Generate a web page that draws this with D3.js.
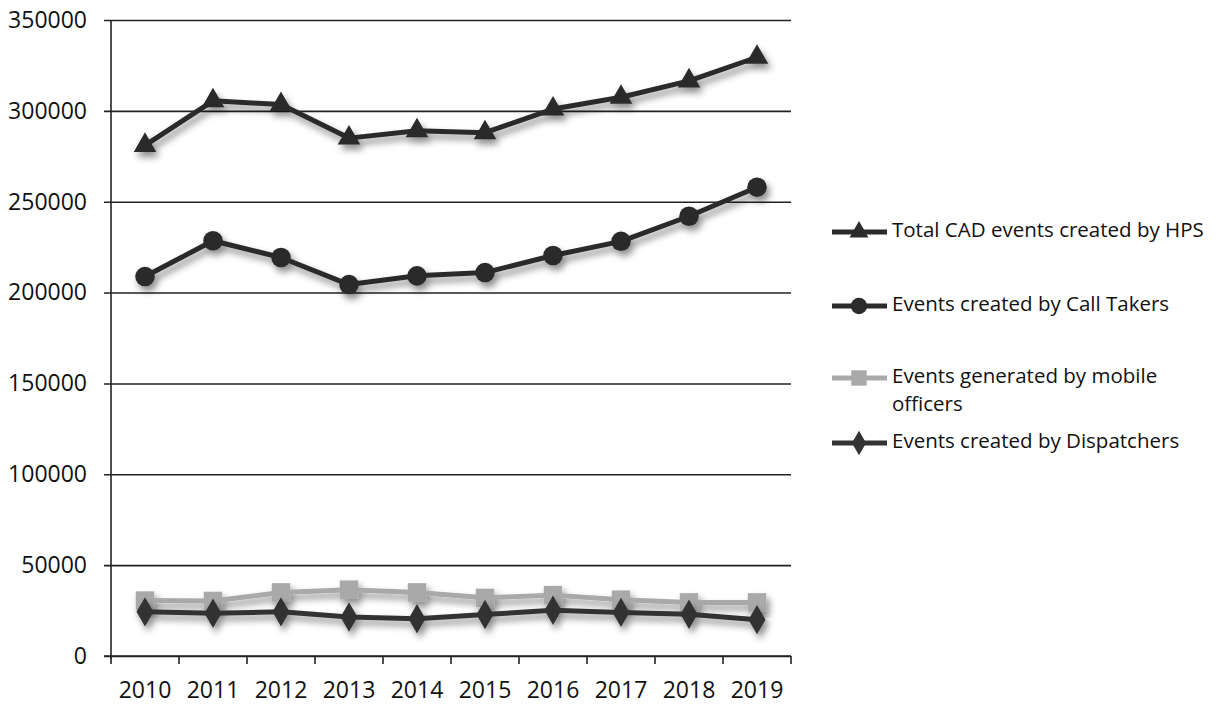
<!DOCTYPE html>
<html>
<head>
<meta charset="utf-8">
<script src="https://cdn.jsdelivr.net/npm/d3@7"></script>
<style>
  html, body { margin: 0; padding: 0; background: #fff; }
  svg { font-family: "Open Sans", sans-serif; display: block; }
</style>
</head>
<body>
<div id="root"></div>
<script>
// chart data
const years = ["2010", "2011", "2012", "2013", "2014", "2015", "2016", "2017", "2018", "2019"];
const totalEvents = [281000, 305500, 303500, 285000, 289000, 288000, 301000, 307500, 316500, 329500];
const callTakerEvents = [208800, 228500, 219300, 204400, 209200, 211000, 220400, 228200, 242000, 258000];
const mobileEvents = [30500, 30300, 35000, 36500, 35000, 32000, 33500, 31000, 29500, 29500];
const dispatcherEvents = [24300, 23500, 24300, 21500, 20500, 22800, 25200, 24000, 23000, 20000];
const yTicks = [0, 50000, 100000, 150000, 200000, 250000, 300000, 350000];
const seriesNames = [
  "Total CAD events created by HPS",
  "Events created by Call Takers",
  "Events generated by mobile officers",
  "Events created by Dispatchers"
];

const width = 1222;
const height = 704;
const margins = { top: 20, right: 431, bottom: 48, left: 111 };

const series = [
  { name: seriesNames[0], values: totalEvents, color: "#2b2b2b", symbol: d3.symbolTriangle, size: 220 },
  { name: seriesNames[1], values: callTakerEvents, color: "#2b2b2b", symbol: d3.symbolCircle, size: 300 },
  { name: seriesNames[2], values: mobileEvents, color: "#a9a9a9", symbol: d3.symbolSquare, size: 340 },
  { name: seriesNames[3], values: dispatcherEvents, color: "#333333", symbol: d3.symbolDiamond, size: 250 }
];

const svg = d3
  .select("#root")
  .append("svg")
  .attr("width", width)
  .attr("height", height);

// soft grey shadow like the scanned original
const defs = svg.append("defs");
const shadow = defs
  .append("filter")
  .attr("id", "shadow")
  .attr("x", "-20%")
  .attr("y", "-20%")
  .attr("width", "140%")
  .attr("height", "140%");
shadow
  .append("feDropShadow")
  .attr("dx", 3)
  .attr("dy", 5)
  .attr("stdDeviation", 3.5)
  .attr("flood-color", "#000")
  .attr("flood-opacity", 0.45);

const chartWidth = width - margins.left - margins.right;
const chartHeight = height - margins.top - margins.bottom;

const xScale = d3.scaleBand().domain(years).range([0, chartWidth]);
const yScale = d3.scaleLinear().domain([0, 350000]).range([chartHeight, 0]);

const chartArea = svg
  .append("g")
  .attr("transform", `translate(${margins.left}, ${margins.top})`);

// gridlines + y labels
const yAxis = d3
  .axisLeft(yScale)
  .tickValues(yTicks)
  .tickSize(-chartWidth)
  .tickPadding(24)
  .tickFormat(d3.format("d"));

const yAxisArea = chartArea.append("g").call(yAxis);
yAxisArea.select(".domain").remove();
yAxisArea
  .selectAll(".tick line")
  .attr("x1", -7)
  .attr("x2", chartWidth)
  .attr("stroke", "#222")
  .attr("stroke-width", 1.6);
yAxisArea
  .selectAll(".tick text")
  .attr("font-family", "Open Sans")
  .attr("font-size", 23)
  .attr("fill", "#111");

chartArea
  .append("line")
  .attr("x1", 0)
  .attr("x2", 0)
  .attr("y1", 0)
  .attr("y2", chartHeight + 3)
  .attr("stroke", "#222")
  .attr("stroke-width", 1.6);

// x axis
const xAxis = d3.axisBottom(xScale).tickSize(0).tickPadding(26);
const xAxisArea = chartArea
  .append("g")
  .attr("transform", `translate(0, ${chartHeight})`)
  .call(xAxis);
xAxisArea
  .select(".domain")
  .attr("d", `M-7,0H${chartWidth}`)
  .attr("stroke", "#222")
  .attr("stroke-width", 1.6);
xAxisArea
  .selectAll(".tick text")
  .attr("font-family", "Open Sans")
  .attr("font-size", 23)
  .attr("fill", "#111");

// tick marks between categories
const boundaries = years.map((y) => xScale(y)).concat([chartWidth]);
xAxisArea
  .selectAll("line.cat-tick")
  .data(boundaries)
  .join("line")
  .attr("class", "cat-tick")
  .attr("x1", (d) => d)
  .attr("x2", (d) => d)
  .attr("y1", 0)
  .attr("y2", 8)
  .attr("stroke", "#222")
  .attr("stroke-width", 1.6);

// lines and markers
const xCenter = (i) => xScale(years[i]) + xScale.bandwidth() / 2;
const lineGen = d3
  .line()
  .x((d, i) => xCenter(i))
  .y((d) => yScale(d));

const seriesGroups = chartArea
  .selectAll("g.series")
  .data(series)
  .join("g")
  .attr("class", "series")
  .attr("filter", "url(#shadow)");

seriesGroups
  .append("path")
  .attr("d", (s) => lineGen(s.values))
  .attr("fill", "none")
  .attr("stroke", (s) => s.color)
  .attr("stroke-width", 5)
  .attr("stroke-linejoin", "round");

seriesGroups.each(function (s) {
  d3.select(this)
    .selectAll("path.marker")
    .data(s.values)
    .join("path")
    .attr("class", "marker")
    .attr("d", d3.symbol().type(s.symbol).size(s.size))
    .attr("transform", (d, i) => `translate(${xCenter(i)}, ${yScale(d)})`)
    .attr("fill", s.color);
});

// legend
const legendRows = [232, 306, 378, 443];
const legend = svg.append("g").attr("transform", "translate(832, 0)");

const legendItems = legend
  .selectAll("g.legend-item")
  .data(series)
  .join("g")
  .attr("class", "legend-item")
  .attr("transform", (d, i) => `translate(0, ${legendRows[i]})`);

legendItems
  .append("line")
  .attr("x1", 0)
  .attr("x2", 55)
  .attr("stroke", (s) => s.color)
  .attr("stroke-width", 5);

legendItems
  .append("path")
  .attr("d", (s) => d3.symbol().type(s.symbol).size(s.size * 0.7)())
  .attr("transform", "translate(27, 0)")
  .attr("fill", (s) => s.color);

legendItems.each(function (s) {
  const item = d3.select(this);
  const lines = s.name === seriesNames[2]
    ? ["Events generated by mobile", "officers"]
    : [s.name];
  item
    .selectAll("text")
    .data(lines)
    .join("text")
    .attr("x", 60)
    .attr("y", (d, i) => i * 28)
    .attr("dominant-baseline", "middle")
    .attr("font-family", "Open Sans")
    .attr("font-size", 20.5)
    .attr("fill", "#111")
    .text((d) => d);
});
</script>
</body>
</html>
